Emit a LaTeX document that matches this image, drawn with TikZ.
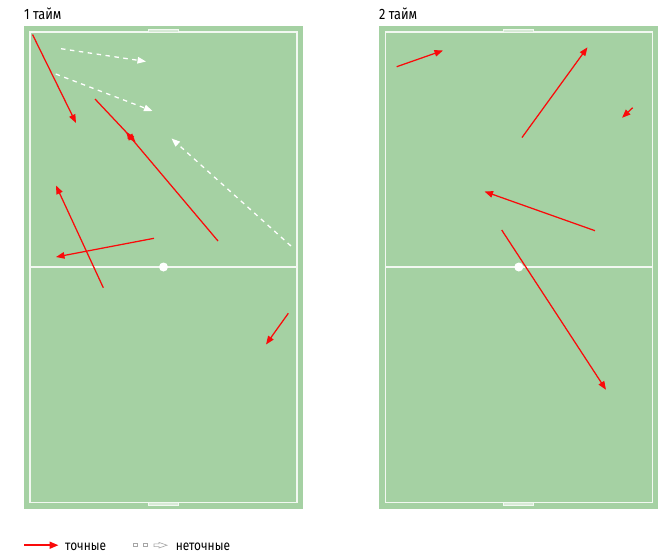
\documentclass[tikz,border=0pt]{standalone}
\usepackage{fontspec}
\setmainfont[FakeStretch=0.85]{Fira Sans}
\usetikzlibrary{arrows.meta}
\definecolor{pitchgreen}{RGB}{165,209,163}
\definecolor{accred}{RGB}{250,10,10}
\begin{document}
\begin{tikzpicture}[x=1pt,y=-1pt,
  pitch/.style={fill=pitchgreen,draw=none},
  pline/.style={draw=white!85!pitchgreen,line width=1.2pt},
  goalbox/.style={fill=white!55!pitchgreen,draw=white!85!pitchgreen,line width=0.8pt},
  cdot/.style={circle,fill=white,inner sep=0pt,minimum size=9pt},
  acc/.style={draw=accred,line width=1.25pt,-{Triangle[length=8.5pt,width=6.5pt]}},
  inacc/.style={draw=white,line width=1.3pt,dash pattern=on 4.5pt off 4.5pt,-{Triangle[length=8.5pt,width=6.5pt]}},
  lbl/.style={inner sep=0pt,anchor=base west,font=\fontsize{14}{16}\selectfont},
  ttl/.style={lbl,font=\fontsize{15}{17}\selectfont},
  legacc/.style={draw=accred,line width=1.8pt,-{Triangle[length=9pt,width=7pt]}},
  legsq/.style={fill=white,draw=gray!70,line width=0.6pt}
]
\useasboundingbox (0,0) rectangle (667,558);

% ---------- pitch 1 ----------
\node[ttl] (t1) at (24,19.5) {1 тайм};
\fill[pitch] (24,26) rectangle (303,509);
\draw[pline] (30,32) rectangle (297,502.5);
\draw[pline] (30,267) -- (297,267);
\draw[goalbox] (148.5,29.3) rectangle (178.5,32);
\draw[goalbox] (148.5,502.5) rectangle (178.5,505.2);
\node[cdot] (c1) at (163.5,267) {};

% accurate passes, half 1
\coordinate (a1s) at (32.5,34.5);  \coordinate (a1e) at (76,123);
\coordinate (a2s) at (95,99);      \coordinate (a2e) at (135.5,142);
\coordinate (a3s) at (218,241);    \coordinate (a3e) at (126,132);
\coordinate (a4s) at (103.3,287.7);\coordinate (a4e) at (56,185.5);
\coordinate (a5s) at (154,238.3);  \coordinate (a5e) at (56,257);
\coordinate (a6s) at (288.3,313.3);\coordinate (a6e) at (266,344.5);
\draw[acc] (a1s) -- (a1e);
\draw[acc] (a2s) -- (a2e);
\draw[acc] (a3s) -- (a3e);
\draw[acc] (a4s) -- (a4e);
\draw[acc] (a5s) -- (a5e);
\draw[acc] (a6s) -- (a6e);

% inaccurate passes, half 1
\coordinate (i1s) at (61,48.7);   \coordinate (i1e) at (146,61.5);
\coordinate (i2s) at (55.7,74);   \coordinate (i2e) at (152.5,111);
\coordinate (i3s) at (291,246);   \coordinate (i3e) at (171.5,138.5);
\draw[inacc] (i1s) -- (i1e);
\draw[inacc] (i2s) -- (i2e);
\draw[inacc] (i3s) -- (i3e);

% ---------- pitch 2 ----------
\node[ttl] (t2) at (379,19.5) {2 тайм};
\fill[pitch] (379,26) rectangle (658,509);
\draw[pline] (385.3,32) rectangle (652.7,502.5);
\draw[pline] (385.3,267) -- (652.7,267);
\draw[goalbox] (503.5,29.3) rectangle (533.5,32);
\draw[goalbox] (503.5,502.5) rectangle (533.5,505.2);
\node[cdot] (c2) at (518.8,267) {};

\coordinate (b1s) at (396.7,66.7); \coordinate (b1e) at (443,50.5);
\coordinate (b2s) at (522,137.5);  \coordinate (b2e) at (587.5,47.3);
\coordinate (b3s) at (632.7,107.7);\coordinate (b3e) at (622,117.8);
\coordinate (b4s) at (595,230.7);  \coordinate (b4e) at (484.5,191.5);
\coordinate (b5s) at (501.7,230);  \coordinate (b5e) at (606,389.8);
\draw[acc] (b1s) -- (b1e);
\draw[acc] (b2s) -- (b2e);
\draw[acc] (b3s) -- (b3e);
\draw[acc] (b4s) -- (b4e);
\draw[acc] (b5s) -- (b5e);

% ---------- legend ----------
\coordinate (ls) at (24,545.2); \coordinate (le) at (58.5,545.2);
\draw[legacc] (ls) -- (le);
\node[lbl] (lt1) at (65,550) {точные};
\draw[legsq] (133.3,543.7) rectangle (137.7,546.5);
\draw[legsq] (143.3,543.7) rectangle (147.7,546.5);
\draw[legsq] (154,543.8) -- (159,543.8) -- (159,542.4) -- (167,545.2) -- (159,548) -- (159,546.6) -- (154,546.6) -- cycle;
\node[lbl] (lt2) at (175.7,550) {неточные};
\end{tikzpicture}
\end{document}
